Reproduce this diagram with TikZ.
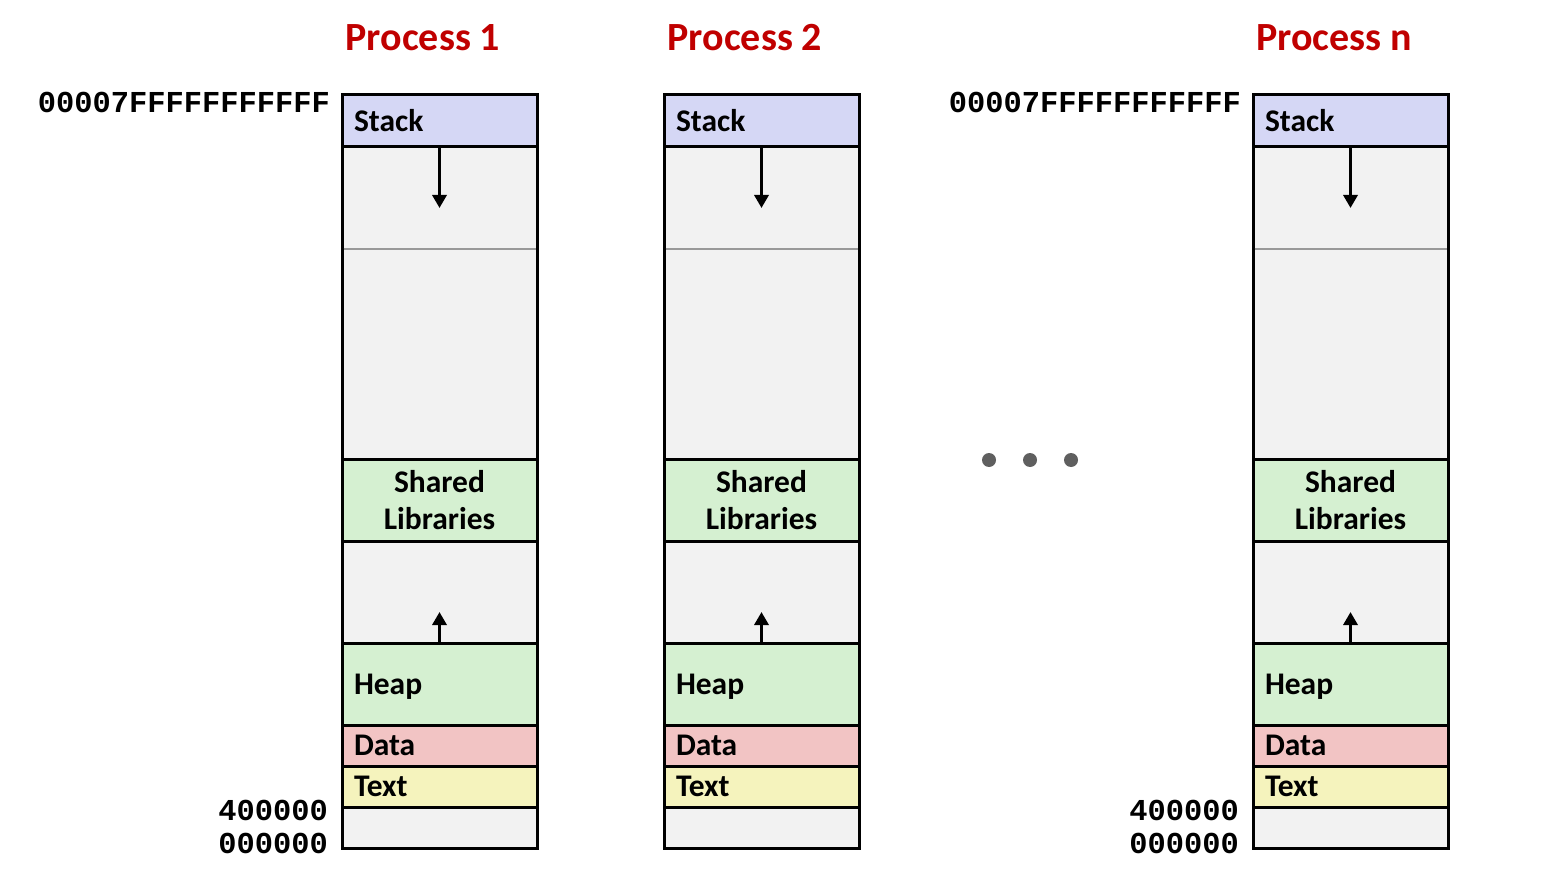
\documentclass[tikz,border=0pt]{standalone}
\usepackage{fontspec}
\setmainfont{Carlito}
\newfontfamily\addrfont{Liberation Mono}
\usetikzlibrary{arrows.meta}
\definecolor{procred}{HTML}{C00000}
\definecolor{stackc}{HTML}{D5D7F5}
\definecolor{gapc}{HTML}{F2F2F2}
\definecolor{greenc}{HTML}{D5F0D1}
\definecolor{datac}{HTML}{F2C4C4}
\definecolor{textc}{HTML}{F5F3BD}
\definecolor{dotc}{HTML}{5F5F5F}
\tikzset{
  seg/.style={draw=black, line width=3pt, minimum width=195pt, inner sep=0pt, outer sep=0pt,
    anchor=north west, font=\fontsize{31.5}{37}\selectfont\bfseries},
  lseg/.style={seg, text width=171pt, align=left},
  cseg/.style={seg, text width=195pt, align=center},
  title/.style={text=procred, font=\fontsize{40}{44}\selectfont\bfseries},
  addr/.style={anchor=east, inner sep=0pt, font=\fontsize{30.4}{30}\addrfont\bfseries},
  growarrow/.style={line width=3.5pt, -{Triangle[width=14pt,length=13pt]}},
  divline/.style={draw=black!40, line width=2.5pt},
  dot/.style={circle, fill=dotc, minimum size=14pt, inner sep=0pt}
}
\begin{document}
\begin{tikzpicture}[x=1pt,y=-1pt]
\useasboundingbox (0,0) rectangle (1544,882);
\foreach \i/\x/\t in {1/342/Process 1, 2/664/Process 2, 3/1253/Process n}{
  \node[title] (title\i) at (\x+81,38) {\t};
  \node[lseg, fill=gapc, minimum height=312pt] (up\i) at (\x,147) {};
  \node[lseg, fill=stackc, minimum height=52pt] (stack\i) at (\x,95) {Stack};
  \node[cseg, fill=greenc, minimum height=82pt] (shared\i) at (\x,459) {Shared\\Libraries};
  \node[lseg, fill=gapc, minimum height=102pt] (low\i) at (\x,541) {};
  \node[lseg, fill=greenc, minimum height=82pt] (heap\i) at (\x,643) {\smash{Heap}\vphantom{H}};
  \node[lseg, fill=datac, minimum height=41pt] (data\i) at (\x,725) {Data};
  \node[lseg, fill=textc, minimum height=41pt] (text\i) at (\x,766) {Text};
  \node[lseg, fill=gapc, minimum height=41pt] (bot\i) at (\x,807) {};
  \coordinate (mid\i a) at (\x+1.5,249);
  \coordinate (mid\i b) at (\x+193.5,249);
  \draw[divline] (mid\i a) -- (mid\i b);
  \coordinate (sdown\i) at ([yshift=-61pt]stack\i.south);
  \draw[growarrow] (stack\i.south) -- (sdown\i);
  \coordinate (hup\i) at ([yshift=31pt]heap\i.north);
  \draw[growarrow] (heap\i.north) -- (hup\i);
}
\node[addr] (top1) at (330,102) {00007FFFFFFFFFFF};
\node[addr] (hi1) at (328,810) {400000};
\node[addr] (lo1) at (328,843) {000000};
\node[addr] (top3) at (1241,102) {00007FFFFFFFFFFF};
\node[addr] (hi3) at (1239,810) {400000};
\node[addr] (lo3) at (1239,843) {000000};
\node[dot] (d1) at (989,460) {};
\node[dot] (d2) at (1030,460) {};
\node[dot] (d3) at (1071,460) {};
\end{tikzpicture}
\end{document}
